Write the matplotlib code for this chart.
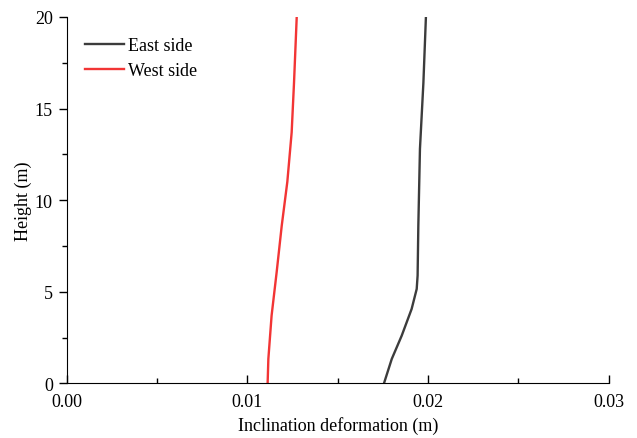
import matplotlib
matplotlib.use("Agg")
import matplotlib.pyplot as plt
from matplotlib.ticker import MultipleLocator

plt.rcParams['font.family'] = ['Liberation Serif', 'DejaVu Serif']

east_x = [0.01756, 0.01799, 0.01854, 0.01909, 0.01937, 0.01942, 0.01946, 0.01955, 0.01974, 0.01988]
east_h = [0, 1.33, 2.6, 4.06, 5.15, 5.88, 8.6, 12.8, 16.4, 20]
west_x = [0.01112, 0.01116, 0.01134, 0.01162, 0.0119, 0.01221, 0.01245, 0.01258, 0.01273]
west_h = [0, 1.33, 3.7, 6.07, 8.6, 11, 13.7, 16.4, 20]

fig = plt.figure(figsize=(6.37, 4.39), dpi=100)
ax = fig.add_axes([0.1047, 0.1246, 0.851, 0.8344])
ax.plot(east_x, east_h, color='#3c3c3c', lw=1.7, label='East side')
ax.plot(west_x, west_h, color='#f23535', lw=1.7, label='West side')
ax.set_xlim(0, 0.03)
ax.set_ylim(0, 20)
ax.spines['top'].set_visible(False)
ax.spines['right'].set_visible(False)
ax.xaxis.set_minor_locator(MultipleLocator(0.005))
ax.yaxis.set_major_locator(MultipleLocator(5))
ax.yaxis.set_minor_locator(MultipleLocator(2.5))
ax.set_xticks([0, 0.01, 0.02, 0.03])
ax.set_xticklabels(['0.00', '0.01', '0.02', '0.03'])
ax.tick_params(axis='x', which='major', direction='in', length=6, width=1, labelsize=13, pad=7)
ax.tick_params(axis='x', which='minor', direction='in', length=3.5, width=1)
ax.tick_params(axis='y', which='major', direction='out', length=6, width=1, labelsize=13, pad=4)
ax.tick_params(axis='y', which='minor', direction='out', length=3.5, width=1)
ax.set_xlabel('Inclination deformation (m)', fontsize=13, labelpad=4)
ax.set_ylabel('Height (m)', fontsize=13, labelpad=2)
ax.legend(loc='upper left', frameon=False, fontsize=13, handlelength=2.2, handletextpad=0.2,
          borderaxespad=0.0, bbox_to_anchor=(0.02, 0.965), labelspacing=0.45)
fig.savefig('out.png', dpi=100)
